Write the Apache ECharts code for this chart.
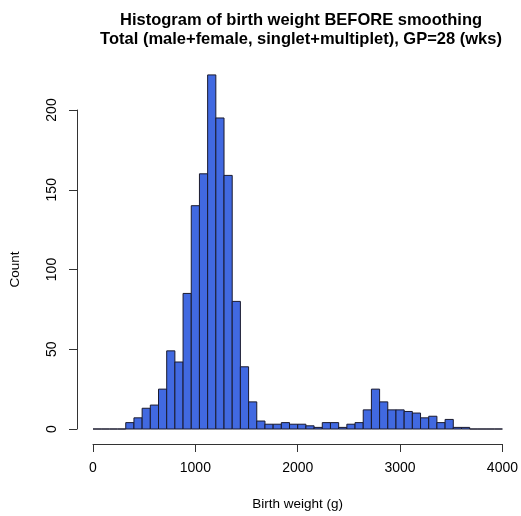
<!DOCTYPE html>
<html>
<head>
<meta charset="utf-8">
<script src="https://cdn.jsdelivr.net/npm/echarts@6/dist/echarts.min.js"></script>
<style>
html,body{margin:0;padding:0;background:#fff;}
#chart{width:521px;height:516px;}
</style>
</head>
<body>
<div id="chart"></div>
<script>
var titleLines = ["Histogram of birth weight BEFORE smoothing", "Total (male+female, singlet+multiplet), GP=28 (wks)"];
var xAxisName = "Birth weight (g)";
var yAxisName = "Count";
var binStart = 0;
var binWidth = 80;
var counts = [0, 0, 0, 0,
  4, 7, 13, 15, 25, 49, 42, 85, 140, 160, 222, 195, 159, 80, 39, 17, 5, 3, 3, 4, 3, 3, 2, 1,
  4, 4, 1, 3, 4, 12, 25, 17, 12, 12, 11, 10, 7, 8, 4, 6, 1, 1,
  0, 0, 0, 0];
var xTicks = [0, 1000, 2000, 3000, 4000];
var yTicks = [0, 50, 100, 150, 200];

var data = counts.map(function (c, i) {
  return [binStart + i * binWidth, binStart + (i + 1) * binWidth, c];
});

var chart = echarts.init(document.getElementById('chart'), null, {renderer: 'canvas'});
var FONT = '"Liberation Sans", Arial, Helvetica, sans-serif';
chart.setOption({
  animation: false,
  backgroundColor: '#ffffff',
  title: {
    text: titleLines.join('\n'),
    left: 296,
    top: 6,
    textAlign: 'center',
    textStyle: {fontFamily: FONT, fontSize: 16.5, fontWeight: 'bold', color: '#000', lineHeight: 19}
  },
  grid: {left: 89, right: 18, top: 110, bottom: 83},
  xAxis: {
    type: 'value',
    min: xTicks[0], max: xTicks[xTicks.length - 1], interval: 1000,
    offset: 15,
    name: xAxisName, nameLocation: 'middle', nameGap: 53,
    nameTextStyle: {fontFamily: FONT, fontSize: 13.5, color: '#000'},
    axisLine: {show: true, onZero: false, lineStyle: {color: '#333', width: 1}},
    axisTick: {show: true, length: 8, lineStyle: {color: '#333'}},
    axisLabel: {fontFamily: FONT, fontSize: 14, color: '#000', margin: 17,
      formatter: function (v) { return String(v); }},
    splitLine: {show: false}
  },
  yAxis: {
    type: 'value',
    min: yTicks[0], max: yTicks[yTicks.length - 1], interval: 50,
    offset: 16,
    name: yAxisName, nameLocation: 'middle', nameGap: 55,
    nameTextStyle: {fontFamily: FONT, fontSize: 13.5, color: '#000'},
    axisLine: {show: true, onZero: false, lineStyle: {color: '#333', width: 1}},
    axisTick: {show: true, length: 8, lineStyle: {color: '#333'}},
    axisLabel: {fontFamily: FONT, fontSize: 14, color: '#000', rotate: 90, margin: 18},
    splitLine: {show: false}
  },
  series: [{
    type: 'custom',
    clip: false,
    data: data,
    encode: {x: [0, 1], y: 2},
    renderItem: function (params, api) {
      var p0 = api.coord([api.value(0), 0]);
      var p1 = api.coord([api.value(1), api.value(2)]);
      return {
        type: 'rect',
        shape: {x: p0[0], y: p1[1], width: p1[0] - p0[0], height: p0[1] - p1[1]},
        style: {fill: '#4169E1', stroke: '#1a1a2e', lineWidth: 1}
      };
    }
  }]
});
</script>
</body>
</html>
